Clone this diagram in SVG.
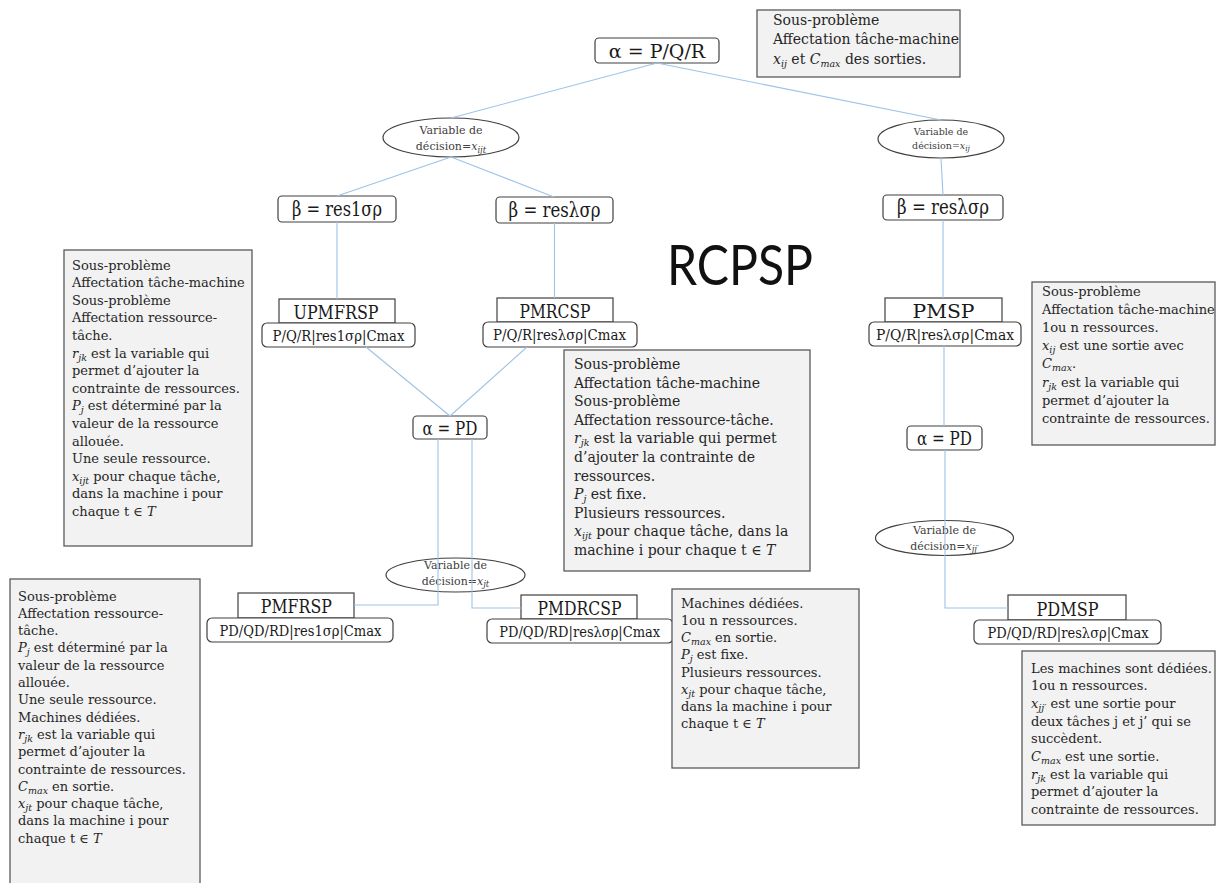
<svg xmlns="http://www.w3.org/2000/svg" width="1216" height="883" viewBox="0 0 1216 883">
<style>
text{font-family:"DejaVu Serif","Liberation Serif",serif}
.bg{fill:#fff}
.box{fill:#fff;stroke:#404040;stroke-width:1.2}
.ell{fill:#fff;stroke:#404040;stroke-width:1.2}
.lbl{text-anchor:middle;fill:#1a1a1a}
.nm{font-size:19px}
.sb{font-size:14px}
.et{text-anchor:middle;fill:#404040;font-size:11px}
.et.sm{font-size:9.5px}
.note rect{fill:#f2f2f2;stroke:#595959;stroke-width:1.3}
.note text{font-size:13px;fill:#262626}
.note text.big{font-size:14px}
.i{font-style:italic}
.s{font-style:italic;font-size:9.5px}
.et .s{font-size:8.5px}
.et.sm .s{font-size:7.5px}
#connectors path{fill:none;stroke:#9dc3e6;stroke-width:1.1}
</style>
<rect class="bg" x="0" y="0" width="1216" height="883"/>

<g id="alpha-top">
<rect class="box" x="595" y="38" width="124" height="25" rx="4"/>
<text class="lbl" x="657" y="57.5" font-size="19">α = P/Q/R</text>
</g>

<g id="note-top" class="note">
<rect x="757" y="10" width="203" height="67"/>
<text class="big" x="773" y="24.5">Sous-problème</text>
<text class="big" x="773" y="44">Affectation tâche-machine</text>
<text class="big" x="773" y="63.5"><tspan class="i">x</tspan><tspan class="s" dy="3">ij</tspan><tspan dy="-3"> et </tspan><tspan class="i">C</tspan><tspan class="s" dy="3">max</tspan><tspan dy="-3"> des sorties.</tspan></text>
</g>

<g id="var-ijt">
<ellipse class="ell" cx="451" cy="137.5" rx="68" ry="19.5"/>
<text class="et" x="451" y="134">Variable de</text>
<text class="et" x="451" y="150">décision=<tspan class="i">x</tspan><tspan class="s" dy="2.5">ijt</tspan></text>
</g>

<g id="var-ij">
<ellipse class="ell" cx="941" cy="139" rx="63" ry="19"/>
<text class="et sm" x="941" y="135">Variable de</text>
<text class="et sm" x="941" y="148.5">décision=<tspan class="i">x</tspan><tspan class="s" dy="2.5">ij</tspan></text>
</g>

<g id="beta-1">
<rect class="box" x="278" y="196" width="118" height="26" rx="4"/>
<text class="lbl" x="337" y="215.5" font-size="19.5" textLength="90" lengthAdjust="spacingAndGlyphs">β = res1σρ</text>
</g>
<g id="beta-2">
<rect class="box" x="496" y="197" width="117" height="26" rx="4"/>
<text class="lbl" x="554.5" y="216.5" font-size="19.5" textLength="92" lengthAdjust="spacingAndGlyphs">β = resλσρ</text>
</g>
<g id="beta-3">
<rect class="box" x="883" y="195" width="120" height="25" rx="4"/>
<text class="lbl" x="943" y="214" font-size="19.5" textLength="92" lengthAdjust="spacingAndGlyphs">β = resλσρ</text>
</g>

<text id="title" x="740" y="285" font-size="56" fill="#111" text-anchor="middle" textLength="146" lengthAdjust="spacingAndGlyphs" style="font-family:Lato,'Liberation Sans',sans-serif">RCPSP</text>

<g id="note-upmfrsp" class="note">
<rect x="64" y="250" width="188" height="296"/>
<text x="72" y="269.5">Sous-problème</text>
<text x="72" y="287.1">Affectation tâche-machine</text>
<text x="72" y="304.7">Sous-problème</text>
<text x="72" y="322.3">Affectation ressource-</text>
<text x="72" y="339.9">tâche.</text>
<text x="72" y="357.5"><tspan class="i">r</tspan><tspan class="s" dy="3">jk</tspan><tspan dy="-3"> est la variable qui</tspan></text>
<text x="72" y="375.1">permet d’ajouter la</text>
<text x="72" y="392.7">contrainte de ressources.</text>
<text x="72" y="410.3"><tspan class="i">P</tspan><tspan class="s" dy="3">j</tspan><tspan dy="-3"> est déterminé par la</tspan></text>
<text x="72" y="427.9">valeur de la ressource</text>
<text x="72" y="445.5">allouée.</text>
<text x="72" y="463.1">Une seule ressource.</text>
<text x="72" y="480.7"><tspan class="i">x</tspan><tspan class="s" dy="3">ijt</tspan><tspan dy="-3"> pour chaque tâche,</tspan></text>
<text x="72" y="498.3">dans la machine i pour</text>
<text x="72" y="515.9">chaque t ∈ <tspan class="i">T</tspan></text>
</g>

<g id="upmfrsp">
<rect class="box" x="279" y="299" width="116" height="24"/>
<rect class="box" x="262" y="323" width="153" height="24" rx="5"/>
<text class="lbl nm" x="336" y="319" textLength="85" lengthAdjust="spacingAndGlyphs">UPMFRSP</text>
<text class="lbl sb" x="338.5" y="340.5" textLength="132" lengthAdjust="spacingAndGlyphs">P/Q/R|res1σρ|Cmax</text>
</g>

<g id="pmrcsp">
<rect class="box" x="497" y="298" width="116" height="24"/>
<rect class="box" x="483" y="322" width="154" height="25" rx="5"/>
<text class="lbl nm" x="555" y="318" textLength="71" lengthAdjust="spacingAndGlyphs">PMRCSP</text>
<text class="lbl sb" x="559.5" y="340" textLength="133" lengthAdjust="spacingAndGlyphs">P/Q/R|resλσρ|Cmax</text>
</g>

<g id="pmsp">
<rect class="box" x="885" y="298" width="117" height="24"/>
<rect class="box" x="869" y="322" width="152" height="24" rx="5"/>
<text class="lbl nm" x="943.5" y="317.5" textLength="62" lengthAdjust="spacingAndGlyphs">PMSP</text>
<text class="lbl sb" x="945" y="339.5" textLength="138" lengthAdjust="spacingAndGlyphs">P/Q/R|resλσρ|Cmax</text>
</g>

<g id="note-pmsp" class="note">
<rect x="1032" y="282" width="183" height="163"/>
<text x="1042" y="296">Sous-problème</text>
<text x="1042" y="314.1">Affectation tâche-machine</text>
<text x="1042" y="332.2">1ou n ressources.</text>
<text x="1042" y="350.3"><tspan class="i">x</tspan><tspan class="s" dy="3">ij</tspan><tspan dy="-3"> est une sortie avec</tspan></text>
<text x="1042" y="368.4"><tspan class="i">C</tspan><tspan class="s" dy="3">max</tspan><tspan dy="-3">.</tspan></text>
<text x="1042" y="386.5"><tspan class="i">r</tspan><tspan class="s" dy="3">jk</tspan><tspan dy="-3"> est la variable qui</tspan></text>
<text x="1042" y="404.6">permet d’ajouter la</text>
<text x="1042" y="422.7">contrainte de ressources.</text>
</g>

<g id="note-pmrcsp" class="note">
<rect x="564" y="350" width="246" height="221"/>
<text class="big" x="574" y="369">Sous-problème</text>
<text class="big" x="574" y="387.6">Affectation tâche-machine</text>
<text class="big" x="574" y="406.2">Sous-problème</text>
<text class="big" x="574" y="424.8">Affectation ressource-tâche.</text>
<text class="big" x="574" y="443.4"><tspan class="i">r</tspan><tspan class="s" dy="3">jk</tspan><tspan dy="-3"> est la variable qui permet</tspan></text>
<text class="big" x="574" y="462">d’ajouter la contrainte de</text>
<text class="big" x="574" y="480.6">ressources.</text>
<text class="big" x="574" y="499.2"><tspan class="i">P</tspan><tspan class="s" dy="3">j</tspan><tspan dy="-3"> est fixe.</tspan></text>
<text class="big" x="574" y="517.8">Plusieurs ressources.</text>
<text class="big" x="574" y="536.4"><tspan class="i">x</tspan><tspan class="s" dy="3">ijt</tspan><tspan dy="-3"> pour chaque tâche, dans la</tspan></text>
<text class="big" x="574" y="555">machine i pour chaque t ∈ <tspan class="i">T</tspan></text>
</g>

<g id="alpha-pd-1">
<rect class="box" x="413" y="416" width="74" height="23" rx="4"/>
<text class="lbl" x="450" y="434.5" font-size="18" textLength="55" lengthAdjust="spacingAndGlyphs">α = PD</text>
</g>

<g id="alpha-pd-2">
<rect class="box" x="907" y="426" width="75" height="24" rx="4"/>
<text class="lbl" x="944.5" y="445" font-size="18" textLength="55" lengthAdjust="spacingAndGlyphs">α = PD</text>
</g>

<g id="var-jt">
<ellipse class="ell" cx="455.5" cy="575" rx="69.5" ry="17"/>
<text class="et" x="455.5" y="569">Variable de</text>
<text class="et" x="455.5" y="584.5">décision=<tspan class="i">x</tspan><tspan class="s" dy="2.5">jt</tspan></text>
</g>

<g id="var-jj">
<ellipse class="ell" cx="944.5" cy="538" rx="69" ry="17.5"/>
<text class="et" x="944.5" y="534">Variable de</text>
<text class="et" x="944.5" y="549.5">décision=<tspan class="i">x</tspan><tspan class="s" dy="2.5">jj′</tspan></text>
</g>

<g id="note-pmfrsp" class="note">
<rect x="10" y="579" width="190" height="330"/>
<text x="18" y="600.5">Sous-problème</text>
<text x="18" y="617.8">Affectation ressource-</text>
<text x="18" y="635.1">tâche.</text>
<text x="18" y="652.4"><tspan class="i">P</tspan><tspan class="s" dy="3">j</tspan><tspan dy="-3"> est déterminé par la</tspan></text>
<text x="18" y="669.7">valeur de la ressource</text>
<text x="18" y="687">allouée.</text>
<text x="18" y="704.3">Une seule ressource.</text>
<text x="18" y="721.6">Machines dédiées.</text>
<text x="18" y="738.9"><tspan class="i">r</tspan><tspan class="s" dy="3">jk</tspan><tspan dy="-3"> est la variable qui</tspan></text>
<text x="18" y="756.2">permet d’ajouter la</text>
<text x="18" y="773.5">contrainte de ressources.</text>
<text x="18" y="790.8"> <tspan class="i">C</tspan><tspan class="s" dy="3">max</tspan><tspan dy="-3"> en sortie.</tspan></text>
<text x="18" y="808.1"><tspan class="i">x</tspan><tspan class="s" dy="3">jt</tspan><tspan dy="-3"> pour chaque tâche,</tspan></text>
<text x="18" y="825.4">dans la machine i pour</text>
<text x="18" y="842.7">chaque t ∈ <tspan class="i">T</tspan></text>
</g>

<g id="pmfrsp">
<rect class="box" x="238" y="593" width="116" height="25"/>
<rect class="box" x="207" y="618" width="186" height="24" rx="5"/>
<text class="lbl nm" x="296.3" y="613" textLength="71" lengthAdjust="spacingAndGlyphs">PMFRSP</text>
<text class="lbl sb" x="300.5" y="635.5" textLength="162" lengthAdjust="spacingAndGlyphs">PD/QD/RD|res1σρ|Cmax</text>
</g>

<g id="pmdrcsp">
<rect class="box" x="521" y="595" width="116" height="24"/>
<rect class="box" x="487" y="619" width="186" height="24" rx="5"/>
<text class="lbl nm" x="579.5" y="614.5" textLength="84" lengthAdjust="spacingAndGlyphs">PMDRCSP</text>
<text class="lbl sb" x="579.7" y="636.5" textLength="161" lengthAdjust="spacingAndGlyphs">PD/QD/RD|resλσρ|Cmax</text>
</g>

<g id="note-pmdrcsp" class="note">
<rect x="672" y="589" width="187" height="179"/>
<text x="681" y="607.8">Machines dédiées.</text>
<text x="681" y="625">1ou n ressources.</text>
<text x="681" y="642.2"><tspan class="i">C</tspan><tspan class="s" dy="3">max</tspan><tspan dy="-3"> en sortie.</tspan></text>
<text x="681" y="659.4"><tspan class="i">P</tspan><tspan class="s" dy="3">j</tspan><tspan dy="-3"> est fixe.</tspan></text>
<text x="681" y="676.6">Plusieurs ressources.</text>
<text x="681" y="693.8"><tspan class="i">x</tspan><tspan class="s" dy="3">jt</tspan><tspan dy="-3"> pour chaque tâche,</tspan></text>
<text x="681" y="711">dans la machine i pour</text>
<text x="681" y="728.2">chaque t ∈ <tspan class="i">T</tspan></text>
</g>

<g id="pdmsp">
<rect class="box" x="1008" y="595" width="118" height="25"/>
<rect class="box" x="974" y="620" width="187" height="24" rx="5"/>
<text class="lbl nm" x="1067.5" y="616" textLength="62" lengthAdjust="spacingAndGlyphs">PDMSP</text>
<text class="lbl sb" x="1068" y="637.5" textLength="161" lengthAdjust="spacingAndGlyphs">PD/QD/RD|resλσρ|Cmax</text>
</g>

<g id="note-pdmsp" class="note">
<rect x="1022" y="651" width="193" height="174"/>
<text x="1031" y="672.5">Les machines sont dédiées.</text>
<text x="1031" y="690.2">1ou n ressources.</text>
<text x="1031" y="707.9"><tspan class="i">x</tspan><tspan class="s" dy="3">jj′</tspan><tspan dy="-3"> est une sortie pour</tspan></text>
<text x="1031" y="725.6">deux tâches j et j’ qui se</text>
<text x="1031" y="743.3">succèdent.</text>
<text x="1031" y="761"><tspan class="i">C</tspan><tspan class="s" dy="3">max</tspan><tspan dy="-3"> est une sortie.</tspan></text>
<text x="1031" y="778.7"><tspan class="i">r</tspan><tspan class="s" dy="3">jk</tspan><tspan dy="-3"> est la variable qui</tspan></text>
<text x="1031" y="796.4">permet d’ajouter la</text>
<text x="1031" y="814.1">contrainte de ressources.</text>
</g>

<g id="connectors">
<path d="M657,63 L451,118"/>
<path d="M657,63 L941,120"/>
<path d="M451,157 L337,196"/>
<path d="M451,157 L554,197"/>
<path d="M941,158 L943,195"/>
<path d="M337,222 V299"/>
<path d="M554.5,223 V298"/>
<path d="M943,220 V298"/>
<path d="M366,347 L450,416"/>
<path d="M527,347 L450,416"/>
<path d="M944,346 V426"/>
<path d="M438,439 V605 H354"/>
<path d="M472,439 V608 H521"/>
<path d="M945,450 V608 H1008"/>
</g>
</svg>
